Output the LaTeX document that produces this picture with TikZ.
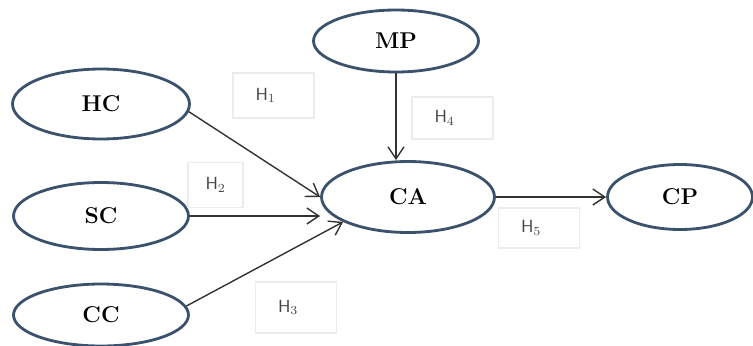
\documentclass[tikz,border=0pt]{standalone}
\usepackage{xcolor}
\usepackage{tikz}
\usetikzlibrary{shapes.geometric,arrows.meta}

\definecolor{rim}{RGB}{58,82,108}
\definecolor{hgray}{RGB}{70,70,70}

\begin{document}
\begin{tikzpicture}[
    x=0.02cm, y=-0.02cm,
    construct/.style={ellipse, draw=rim, line width=1.6pt, fill=white, inner sep=0pt, font=\fontsize{13}{15}\selectfont\bfseries},
    hyp/.style={rectangle, draw=gray!15, line width=0.6pt, inner xsep=0.45cm, text width=0.72cm, align=left, minimum height=0.9cm, text=hgray, font=\fontsize{10}{12}\selectfont\sffamily},
    arrow/.style={-{Straight Barb[length=2.4mm, width=3.2mm]}, draw=black!80, line width=0.8pt}
]
    \useasboundingbox (0,0) rectangle (753,345);

    \node[construct, minimum width=3.54cm, minimum height=1.4cm] (HC) at (101,104) {HC};
    \node[construct, minimum width=3.5cm, minimum height=1.34cm] (SC) at (101,216) {SC};
    \node[construct, minimum width=3.5cm, minimum height=1.24cm] (CC) at (101,315) {CC};
    \node[construct, minimum width=3.3cm, minimum height=1.24cm] (MP) at (396,41) {MP};
    \node[construct, minimum width=3.46cm, minimum height=1.42cm] (CA) at (408,197) {CA};
    \node[construct, minimum width=2.9cm, minimum height=1.3cm] (CP) at (680,197) {CP};

    \node[hyp] (h1) at (273.5,95.5) {H$_1$};
    \node[hyp, text width=0.4cm, inner xsep=0.35cm] (h2) at (215.5,185) {H$_2$};
    \node[hyp, minimum height=1.02cm] (h3) at (296,307.5) {H$_3$};
    \node[hyp, minimum height=0.84cm] (h4) at (452.5,118) {H$_4$};
    \node[hyp, minimum height=0.8cm] (h5) at (539,228) {H$_5$};

    \draw[arrow] (HC.-5) -- (CA.west);
    \draw[arrow] (SC.east) -- (SC.east -| CA.west);
    \draw[arrow] (CC.6) -- (CA.201);
    \draw[arrow] (MP.south) -- (MP.south |- CA.north);
    \draw[arrow] (CA.east) -- (CP.west);
\end{tikzpicture}
\end{document}
